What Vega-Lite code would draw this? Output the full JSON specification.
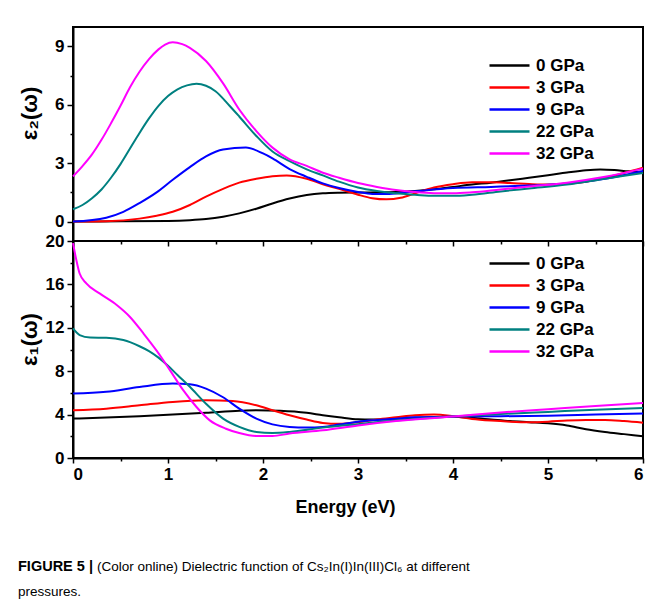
{
  "$schema": "https://vega.github.io/schema/vega-lite/v6.json",
  "autosize": {"type": "pad"},
  "padding": {"left": 16, "top": 26, "right": 0, "bottom": 0},
  "background": "white",
  "bounds": "flush",
  "spacing": 0,
  "config": {
    "view": {"stroke": "black", "strokeWidth": 2},
    "axis": {
      "labelFont": "Liberation Sans", "labelFontWeight": "bold", "labelFontSize": 17, "labelColor": "black", "labelPadding": 3,
      "titleFont": "Liberation Sans", "titleFontWeight": "bold", "titleColor": "black",
      "domainColor": "black", "domainWidth": 2, "tickColor": "black", "tickWidth": 1.5, "grid": false
    },
    "legend": {
      "orient": "none", "title": null, "symbolType": "M-4,0H4", "symbolSize": 100, "symbolStrokeWidth": 2.5,
      "labelFont": "Liberation Sans", "labelFontWeight": "bold", "labelFontSize": 17, "labelColor": "black",
      "rowPadding": 4, "labelOffset": 18, "padding": 0
    },
    "title": {"font": "Liberation Sans", "color": "black"}
  },
  "datasets": {
    "e2": [
      {"p": "0 GPa", "E": 0, "v": 0}, {"p": "0 GPa", "E": 0.5, "v": 0.01}, {"p": "0 GPa", "E": 1.0, "v": 0.03}, {"p": "0 GPa", "E": 1.23, "v": 0.07}, {"p": "0 GPa", "E": 1.4, "v": 0.13}, {"p": "0 GPa", "E": 1.58, "v": 0.25}, {"p": "0 GPa", "E": 1.75, "v": 0.42}, {"p": "0 GPa", "E": 1.93, "v": 0.66}, {"p": "0 GPa", "E": 2.1, "v": 0.93}, {"p": "0 GPa", "E": 2.28, "v": 1.18}, {"p": "0 GPa", "E": 2.46, "v": 1.36}, {"p": "0 GPa", "E": 2.63, "v": 1.45}, {"p": "0 GPa", "E": 2.8, "v": 1.48}, {"p": "0 GPa", "E": 3.0, "v": 1.49}, {"p": "0 GPa", "E": 3.2, "v": 1.5}, {"p": "0 GPa", "E": 3.4, "v": 1.52}, {"p": "0 GPa", "E": 3.6, "v": 1.57}, {"p": "0 GPa", "E": 3.8, "v": 1.66}, {"p": "0 GPa", "E": 4.0, "v": 1.78}, {"p": "0 GPa", "E": 4.2, "v": 1.9}, {"p": "0 GPa", "E": 4.4, "v": 2.0}, {"p": "0 GPa", "E": 4.6, "v": 2.12}, {"p": "0 GPa", "E": 4.8, "v": 2.25}, {"p": "0 GPa", "E": 5.0, "v": 2.38}, {"p": "0 GPa", "E": 5.2, "v": 2.52}, {"p": "0 GPa", "E": 5.4, "v": 2.64}, {"p": "0 GPa", "E": 5.55, "v": 2.68}, {"p": "0 GPa", "E": 5.7, "v": 2.65}, {"p": "0 GPa", "E": 5.85, "v": 2.58}, {"p": "0 GPa", "E": 6.0, "v": 2.55},
      {"p": "3 GPa", "E": 0, "v": 0}, {"p": "3 GPa", "E": 0.35, "v": 0.02}, {"p": "3 GPa", "E": 0.7, "v": 0.15}, {"p": "3 GPa", "E": 0.88, "v": 0.3}, {"p": "3 GPa", "E": 1.05, "v": 0.5}, {"p": "3 GPa", "E": 1.23, "v": 0.85}, {"p": "3 GPa", "E": 1.4, "v": 1.28}, {"p": "3 GPa", "E": 1.58, "v": 1.68}, {"p": "3 GPa", "E": 1.75, "v": 2.0}, {"p": "3 GPa", "E": 1.93, "v": 2.2}, {"p": "3 GPa", "E": 2.1, "v": 2.33}, {"p": "3 GPa", "E": 2.25, "v": 2.37}, {"p": "3 GPa", "E": 2.46, "v": 2.2}, {"p": "3 GPa", "E": 2.63, "v": 1.92}, {"p": "3 GPa", "E": 2.8, "v": 1.68}, {"p": "3 GPa", "E": 3.0, "v": 1.38}, {"p": "3 GPa", "E": 3.15, "v": 1.2}, {"p": "3 GPa", "E": 3.3, "v": 1.14}, {"p": "3 GPa", "E": 3.45, "v": 1.22}, {"p": "3 GPa", "E": 3.6, "v": 1.45}, {"p": "3 GPa", "E": 3.8, "v": 1.75}, {"p": "3 GPa", "E": 4.0, "v": 1.92}, {"p": "3 GPa", "E": 4.2, "v": 2.02}, {"p": "3 GPa", "E": 4.4, "v": 2.02}, {"p": "3 GPa", "E": 4.6, "v": 1.98}, {"p": "3 GPa", "E": 4.8, "v": 1.93}, {"p": "3 GPa", "E": 5.0, "v": 1.9}, {"p": "3 GPa", "E": 5.2, "v": 1.95}, {"p": "3 GPa", "E": 5.4, "v": 2.05}, {"p": "3 GPa", "E": 5.6, "v": 2.25}, {"p": "3 GPa", "E": 5.8, "v": 2.5}, {"p": "3 GPa", "E": 6.0, "v": 2.77},
      {"p": "9 GPa", "E": 0, "v": 0}, {"p": "9 GPa", "E": 0.35, "v": 0.2}, {"p": "9 GPa", "E": 0.53, "v": 0.5}, {"p": "9 GPa", "E": 0.7, "v": 0.95}, {"p": "9 GPa", "E": 0.88, "v": 1.5}, {"p": "9 GPa", "E": 1.05, "v": 2.15}, {"p": "9 GPa", "E": 1.23, "v": 2.8}, {"p": "9 GPa", "E": 1.4, "v": 3.35}, {"p": "9 GPa", "E": 1.58, "v": 3.7}, {"p": "9 GPa", "E": 1.82, "v": 3.8}, {"p": "9 GPa", "E": 2.0, "v": 3.5}, {"p": "9 GPa", "E": 2.1, "v": 3.25}, {"p": "9 GPa", "E": 2.28, "v": 2.7}, {"p": "9 GPa", "E": 2.46, "v": 2.3}, {"p": "9 GPa", "E": 2.63, "v": 1.96}, {"p": "9 GPa", "E": 2.8, "v": 1.72}, {"p": "9 GPa", "E": 3.0, "v": 1.52}, {"p": "9 GPa", "E": 3.15, "v": 1.42}, {"p": "9 GPa", "E": 3.3, "v": 1.42}, {"p": "9 GPa", "E": 3.5, "v": 1.5}, {"p": "9 GPa", "E": 3.7, "v": 1.6}, {"p": "9 GPa", "E": 4.0, "v": 1.72}, {"p": "9 GPa", "E": 4.4, "v": 1.78}, {"p": "9 GPa", "E": 4.8, "v": 1.85}, {"p": "9 GPa", "E": 5.2, "v": 1.95}, {"p": "9 GPa", "E": 5.6, "v": 2.2}, {"p": "9 GPa", "E": 6.0, "v": 2.6},
      {"p": "22 GPa", "E": 0, "v": 0.63}, {"p": "22 GPa", "E": 0.1, "v": 0.85}, {"p": "22 GPa", "E": 0.2, "v": 1.2}, {"p": "22 GPa", "E": 0.3, "v": 1.65}, {"p": "22 GPa", "E": 0.4, "v": 2.25}, {"p": "22 GPa", "E": 0.5, "v": 2.95}, {"p": "22 GPa", "E": 0.6, "v": 3.75}, {"p": "22 GPa", "E": 0.7, "v": 4.55}, {"p": "22 GPa", "E": 0.8, "v": 5.3}, {"p": "22 GPa", "E": 0.9, "v": 5.95}, {"p": "22 GPa", "E": 1.0, "v": 6.45}, {"p": "22 GPa", "E": 1.1, "v": 6.8}, {"p": "22 GPa", "E": 1.2, "v": 7.0}, {"p": "22 GPa", "E": 1.3, "v": 7.08}, {"p": "22 GPa", "E": 1.4, "v": 6.98}, {"p": "22 GPa", "E": 1.5, "v": 6.7}, {"p": "22 GPa", "E": 1.65, "v": 5.94}, {"p": "22 GPa", "E": 1.75, "v": 5.4}, {"p": "22 GPa", "E": 1.93, "v": 4.4}, {"p": "22 GPa", "E": 2.1, "v": 3.6}, {"p": "22 GPa", "E": 2.28, "v": 3.1}, {"p": "22 GPa", "E": 2.46, "v": 2.68}, {"p": "22 GPa", "E": 2.63, "v": 2.37}, {"p": "22 GPa", "E": 2.8, "v": 2.05}, {"p": "22 GPa", "E": 3.0, "v": 1.75}, {"p": "22 GPa", "E": 3.2, "v": 1.57}, {"p": "22 GPa", "E": 3.4, "v": 1.45}, {"p": "22 GPa", "E": 3.6, "v": 1.38}, {"p": "22 GPa", "E": 3.8, "v": 1.32}, {"p": "22 GPa", "E": 4.0, "v": 1.32}, {"p": "22 GPa", "E": 4.2, "v": 1.38}, {"p": "22 GPa", "E": 4.5, "v": 1.55}, {"p": "22 GPa", "E": 4.8, "v": 1.7}, {"p": "22 GPa", "E": 5.2, "v": 1.9}, {"p": "22 GPa", "E": 5.6, "v": 2.2}, {"p": "22 GPa", "E": 6.0, "v": 2.5},
      {"p": "32 GPa", "E": 0, "v": 2.32}, {"p": "32 GPa", "E": 0.1, "v": 2.85}, {"p": "32 GPa", "E": 0.2, "v": 3.45}, {"p": "32 GPa", "E": 0.3, "v": 4.2}, {"p": "32 GPa", "E": 0.4, "v": 5.05}, {"p": "32 GPa", "E": 0.5, "v": 5.95}, {"p": "32 GPa", "E": 0.6, "v": 6.9}, {"p": "32 GPa", "E": 0.7, "v": 7.7}, {"p": "32 GPa", "E": 0.8, "v": 8.35}, {"p": "32 GPa", "E": 0.9, "v": 8.85}, {"p": "32 GPa", "E": 0.97, "v": 9.1}, {"p": "32 GPa", "E": 1.05, "v": 9.22}, {"p": "32 GPa", "E": 1.15, "v": 9.12}, {"p": "32 GPa", "E": 1.23, "v": 8.93}, {"p": "32 GPa", "E": 1.4, "v": 8.25}, {"p": "32 GPa", "E": 1.58, "v": 7.1}, {"p": "32 GPa", "E": 1.75, "v": 5.76}, {"p": "32 GPa", "E": 1.93, "v": 4.65}, {"p": "32 GPa", "E": 2.1, "v": 3.8}, {"p": "32 GPa", "E": 2.28, "v": 3.2}, {"p": "32 GPa", "E": 2.46, "v": 2.86}, {"p": "32 GPa", "E": 2.63, "v": 2.51}, {"p": "32 GPa", "E": 2.8, "v": 2.25}, {"p": "32 GPa", "E": 3.0, "v": 1.98}, {"p": "32 GPa", "E": 3.2, "v": 1.78}, {"p": "32 GPa", "E": 3.4, "v": 1.62}, {"p": "32 GPa", "E": 3.6, "v": 1.52}, {"p": "32 GPa", "E": 3.8, "v": 1.46}, {"p": "32 GPa", "E": 4.0, "v": 1.45}, {"p": "32 GPa", "E": 4.2, "v": 1.5}, {"p": "32 GPa", "E": 4.5, "v": 1.65}, {"p": "32 GPa", "E": 4.8, "v": 1.8}, {"p": "32 GPa", "E": 5.2, "v": 2.0}, {"p": "32 GPa", "E": 5.6, "v": 2.3}, {"p": "32 GPa", "E": 6.0, "v": 2.72}
    ],
    "e1": [
      {"p": "0 GPa", "E": 0, "v": 3.63}, {"p": "0 GPa", "E": 0.7, "v": 3.84}, {"p": "0 GPa", "E": 1.4, "v": 4.16}, {"p": "0 GPa", "E": 1.75, "v": 4.35}, {"p": "0 GPa", "E": 1.93, "v": 4.4}, {"p": "0 GPa", "E": 2.18, "v": 4.35}, {"p": "0 GPa", "E": 2.46, "v": 4.16}, {"p": "0 GPa", "E": 2.63, "v": 3.94}, {"p": "0 GPa", "E": 2.8, "v": 3.75}, {"p": "0 GPa", "E": 3.0, "v": 3.56}, {"p": "0 GPa", "E": 3.2, "v": 3.55}, {"p": "0 GPa", "E": 3.4, "v": 3.62}, {"p": "0 GPa", "E": 3.6, "v": 3.7}, {"p": "0 GPa", "E": 3.8, "v": 3.76}, {"p": "0 GPa", "E": 4.0, "v": 3.8}, {"p": "0 GPa", "E": 4.2, "v": 3.7}, {"p": "0 GPa", "E": 4.4, "v": 3.55}, {"p": "0 GPa", "E": 4.6, "v": 3.4}, {"p": "0 GPa", "E": 4.8, "v": 3.3}, {"p": "0 GPa", "E": 5.0, "v": 3.2}, {"p": "0 GPa", "E": 5.2, "v": 3.0}, {"p": "0 GPa", "E": 5.4, "v": 2.65}, {"p": "0 GPa", "E": 5.6, "v": 2.4}, {"p": "0 GPa", "E": 5.8, "v": 2.2}, {"p": "0 GPa", "E": 6.0, "v": 2.0},
      {"p": "3 GPa", "E": 0, "v": 4.4}, {"p": "3 GPa", "E": 0.35, "v": 4.55}, {"p": "3 GPa", "E": 0.7, "v": 4.86}, {"p": "3 GPa", "E": 1.05, "v": 5.17}, {"p": "3 GPa", "E": 1.4, "v": 5.32}, {"p": "3 GPa", "E": 1.68, "v": 5.26}, {"p": "3 GPa", "E": 1.93, "v": 4.86}, {"p": "3 GPa", "E": 2.1, "v": 4.4}, {"p": "3 GPa", "E": 2.28, "v": 3.94}, {"p": "3 GPa", "E": 2.46, "v": 3.54}, {"p": "3 GPa", "E": 2.63, "v": 3.23}, {"p": "3 GPa", "E": 2.8, "v": 3.15}, {"p": "3 GPa", "E": 3.0, "v": 3.3}, {"p": "3 GPa", "E": 3.2, "v": 3.55}, {"p": "3 GPa", "E": 3.4, "v": 3.75}, {"p": "3 GPa", "E": 3.6, "v": 3.95}, {"p": "3 GPa", "E": 3.8, "v": 4.0}, {"p": "3 GPa", "E": 4.0, "v": 3.85}, {"p": "3 GPa", "E": 4.2, "v": 3.6}, {"p": "3 GPa", "E": 4.4, "v": 3.45}, {"p": "3 GPa", "E": 4.6, "v": 3.35}, {"p": "3 GPa", "E": 4.8, "v": 3.3}, {"p": "3 GPa", "E": 5.0, "v": 3.35}, {"p": "3 GPa", "E": 5.2, "v": 3.45}, {"p": "3 GPa", "E": 5.4, "v": 3.5}, {"p": "3 GPa", "E": 5.6, "v": 3.5}, {"p": "3 GPa", "E": 5.8, "v": 3.4}, {"p": "3 GPa", "E": 6.0, "v": 3.25},
      {"p": "9 GPa", "E": 0, "v": 5.94}, {"p": "9 GPa", "E": 0.35, "v": 6.1}, {"p": "9 GPa", "E": 0.7, "v": 6.55}, {"p": "9 GPa", "E": 1.05, "v": 6.86}, {"p": "9 GPa", "E": 1.23, "v": 6.8}, {"p": "9 GPa", "E": 1.4, "v": 6.4}, {"p": "9 GPa", "E": 1.58, "v": 5.6}, {"p": "9 GPa", "E": 1.75, "v": 4.55}, {"p": "9 GPa", "E": 1.93, "v": 3.63}, {"p": "9 GPa", "E": 2.1, "v": 3.1}, {"p": "9 GPa", "E": 2.28, "v": 2.86}, {"p": "9 GPa", "E": 2.46, "v": 2.8}, {"p": "9 GPa", "E": 2.63, "v": 2.86}, {"p": "9 GPa", "E": 2.8, "v": 3.08}, {"p": "9 GPa", "E": 3.0, "v": 3.35}, {"p": "9 GPa", "E": 3.2, "v": 3.5}, {"p": "9 GPa", "E": 3.4, "v": 3.62}, {"p": "9 GPa", "E": 3.6, "v": 3.75}, {"p": "9 GPa", "E": 4.0, "v": 3.82}, {"p": "9 GPa", "E": 4.5, "v": 3.85}, {"p": "9 GPa", "E": 5.0, "v": 3.9}, {"p": "9 GPa", "E": 5.5, "v": 4.0}, {"p": "9 GPa", "E": 6.0, "v": 4.1},
      {"p": "22 GPa", "E": 0, "v": 11.94}, {"p": "22 GPa", "E": 0.07, "v": 11.33}, {"p": "22 GPa", "E": 0.18, "v": 11.1}, {"p": "22 GPa", "E": 0.35, "v": 11.08}, {"p": "22 GPa", "E": 0.53, "v": 10.87}, {"p": "22 GPa", "E": 0.7, "v": 10.3}, {"p": "22 GPa", "E": 0.8, "v": 9.85}, {"p": "22 GPa", "E": 0.9, "v": 9.25}, {"p": "22 GPa", "E": 1.0, "v": 8.5}, {"p": "22 GPa", "E": 1.1, "v": 7.65}, {"p": "22 GPa", "E": 1.23, "v": 6.56}, {"p": "22 GPa", "E": 1.4, "v": 5.0}, {"p": "22 GPa", "E": 1.58, "v": 3.63}, {"p": "22 GPa", "E": 1.75, "v": 2.87}, {"p": "22 GPa", "E": 1.93, "v": 2.4}, {"p": "22 GPa", "E": 2.1, "v": 2.31}, {"p": "22 GPa", "E": 2.28, "v": 2.4}, {"p": "22 GPa", "E": 2.63, "v": 2.8}, {"p": "22 GPa", "E": 3.0, "v": 3.12}, {"p": "22 GPa", "E": 3.4, "v": 3.45}, {"p": "22 GPa", "E": 4.0, "v": 3.82}, {"p": "22 GPa", "E": 4.5, "v": 4.05}, {"p": "22 GPa", "E": 5.0, "v": 4.25}, {"p": "22 GPa", "E": 5.5, "v": 4.45}, {"p": "22 GPa", "E": 6.0, "v": 4.6},
      {"p": "32 GPa", "E": 0, "v": 19.8}, {"p": "32 GPa", "E": 0.035, "v": 18.25}, {"p": "32 GPa", "E": 0.07, "v": 17.0}, {"p": "32 GPa", "E": 0.14, "v": 16.1}, {"p": "32 GPa", "E": 0.28, "v": 15.17}, {"p": "32 GPa", "E": 0.46, "v": 14.1}, {"p": "32 GPa", "E": 0.6, "v": 13.0}, {"p": "32 GPa", "E": 0.74, "v": 11.5}, {"p": "32 GPa", "E": 0.88, "v": 9.9}, {"p": "32 GPa", "E": 1.02, "v": 8.1}, {"p": "32 GPa", "E": 1.16, "v": 6.25}, {"p": "32 GPa", "E": 1.3, "v": 4.7}, {"p": "32 GPa", "E": 1.44, "v": 3.47}, {"p": "32 GPa", "E": 1.61, "v": 2.7}, {"p": "32 GPa", "E": 1.75, "v": 2.3}, {"p": "32 GPa", "E": 1.93, "v": 2.03}, {"p": "32 GPa", "E": 2.1, "v": 2.03}, {"p": "32 GPa", "E": 2.28, "v": 2.25}, {"p": "32 GPa", "E": 2.63, "v": 2.55}, {"p": "32 GPa", "E": 3.0, "v": 3.0}, {"p": "32 GPa", "E": 3.4, "v": 3.4}, {"p": "32 GPa", "E": 4.0, "v": 3.82}, {"p": "32 GPa", "E": 4.5, "v": 4.2}, {"p": "32 GPa", "E": 5.0, "v": 4.5}, {"p": "32 GPa", "E": 5.5, "v": 4.8}, {"p": "32 GPa", "E": 6.0, "v": 5.07}
    ]
  },
  "resolve": {"scale": {"color": "independent"}},
  "title": {
    "text": "(Color online) Dielectric function of Cs₂In(I)In(III)Cl₆ at different",
    "orient": "bottom", "anchor": "start", "frame": "group",
    "fontSize": 13.5, "fontWeight": "normal", "dx": 24, "dy": -43
  },
  "vconcat": [
    {
      "width": 570, "height": 214,
      "data": {"name": "e2"},
      "mark": {"type": "line", "strokeWidth": 2, "interpolate": "monotone"},
      "encoding": {
        "x": {"field": "E", "type": "quantitative", "scale": {"domain": [0, 6], "nice": false}, "axis": null},
        "y": {"field": "v", "type": "quantitative", "scale": {"domain": [-1, 10], "nice": false, "zero": false},
          "axis": {"values": [0, 1.5, 3, 4.5, 6, 7.5, 9], "labelExpr": "datum.value % 3 === 0 ? format(datum.value, 'd') : ''",
            "tickSize": {"condition": {"test": "datum.value % 3 === 0", "value": 6}, "value": 3},
            "title": "ε₂(ω)", "titleFontSize": 22, "titleX": -32, "titleY": 86}},
        "color": {"field": "p", "type": "nominal",
          "scale": {"domain": ["0 GPa", "3 GPa", "9 GPa", "22 GPa", "32 GPa"], "range": ["#000000", "#ff0000", "#0000ff", "#008080", "#ff00ff"]},
          "legend": {"legendX": 428, "legendY": 30}}
      }
    },
    {
      "width": 570, "height": 217,
      "data": {"name": "e1"},
      "title": {"text": "FIGURE 5 |", "subtitle": "pressures.", "orient": "bottom", "anchor": "start", "frame": "group", "dx": -55, "offset": 44,
        "fontSize": 14.5, "fontWeight": "bold", "subtitleFont": "Liberation Sans", "subtitleFontSize": 13.5, "subtitleColor": "black", "subtitlePadding": 10},
      "layer": [
        {
          "mark": {"type": "line", "strokeWidth": 2, "interpolate": "monotone"},
          "encoding": {
            "x": {"field": "E", "type": "quantitative", "scale": {"domain": [0, 6], "nice": false},
              "axis": {"orient": "bottom", "values": [0, 0.5, 1, 1.5, 2, 2.5, 3, 3.5, 4, 4.5, 5, 5.5, 6],
                "labelExpr": "datum.value % 1 === 0 ? format(datum.value, 'd') : ''",
                "tickSize": {"condition": {"test": "datum.value % 1 === 0", "value": 5}, "value": 3},
                "title": "Energy (eV)", "titleFontSize": 18, "titleX": 272, "titleY": 40}},
            "y": {"field": "v", "type": "quantitative", "scale": {"domain": [0, 20], "nice": false},
              "axis": {"values": [0, 2, 4, 6, 8, 10, 12, 14, 16, 18, 20], "labelExpr": "datum.value % 4 === 0 ? format(datum.value, 'd') : ''",
                "tickSize": {"condition": {"test": "datum.value % 4 === 0", "value": 6}, "value": 3},
                "title": "ε₁(ω)", "titleFontSize": 22, "titleX": -32, "titleY": 98}},
            "color": {"field": "p", "type": "nominal",
              "scale": {"domain": ["0 GPa", "3 GPa", "9 GPa", "22 GPa", "32 GPa"], "range": ["#000000", "#ff0000", "#0000ff", "#008080", "#ff00ff"]},
              "legend": {"legendX": 428, "legendY": 14}}
          }
        },
        {
          "mark": {"type": "point", "opacity": 0},
          "encoding": {
            "x": {"field": "E", "type": "quantitative",
              "axis": {"orient": "top", "values": [0, 0.5, 1, 1.5, 2, 2.5, 3, 3.5, 4, 4.5, 5, 5.5, 6], "labels": false, "domain": false,
                "tickSize": {"condition": {"test": "datum.value % 1 === 0", "value": -5}, "value": -3}, "title": null}}
          }
        }
      ],
      "resolve": {"axis": {"x": "independent"}}
    }
  ]
}
